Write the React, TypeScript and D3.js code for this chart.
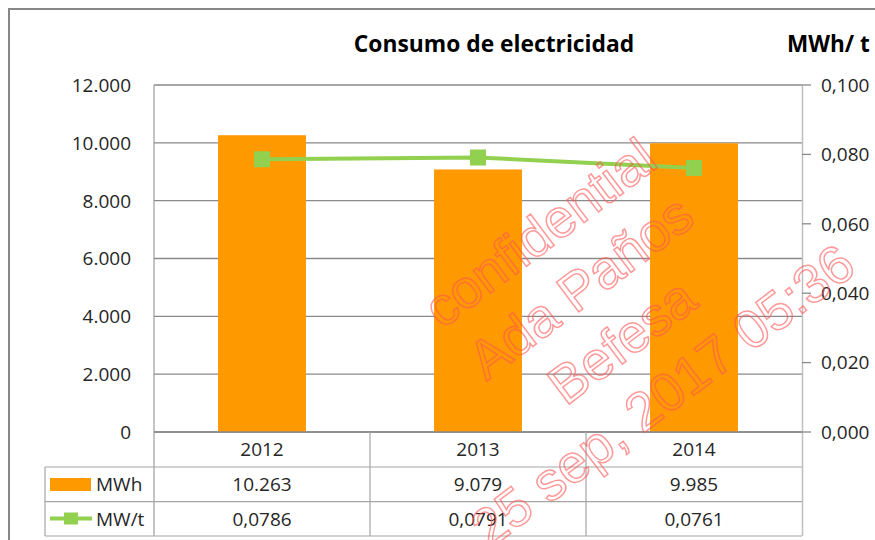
import React from "react";
import * as d3 from "d3";

const categories = ["2012", "2013", "2014"];
const mwhValues = [10263, 9079, 9985];
const mwtValues = [0.0786, 0.0791, 0.0761];
const mwhLabels = ["10.263", "9.079", "9.985"];
const mwtLabels = ["0,0786", "0,0791", "0,0761"];
const leftTicks = [0, 2000, 4000, 6000, 8000, 10000, 12000];
const rightTicks = [0, 0.02, 0.04, 0.06, 0.08, 0.1];
const watermark = ["confidential", "Ada Paños", "Befesa", "25 sep, 2017 05:36"];

const W = 875;
const H = 540;
const plotL = 154;
const plotR = 802;
const plotT = 85;
const plotB = 432;
const rowLines = [432, 467, 501.7, 536];
const tableL = 45;
const FONT = "'Open Sans', 'Noto Sans', sans-serif";

const fmtLeft = (v: number) =>
  v === 0 ? "0" : d3.format(",")(v).replace(/,/g, ".");
const fmtRight = (v: number) => d3.format(".3f")(v).replace(".", ",");

export default function App() {
  const x = d3.scaleBand<string>().domain(categories).range([plotL, plotR]).padding(0);
  const yL = d3.scaleLinear().domain([0, 12000]).range([plotB, plotT]);
  const yR = d3.scaleLinear().domain([0, 0.1]).range([plotB, plotT]);
  const bw = x.bandwidth() * 0.407;
  const cx = (c: string) => (x(c) as number) + x.bandwidth() / 2;
  const line = d3
    .line<number>()
    .x((_, i) => cx(categories[i]))
    .y((d) => yR(d));

  const rowCenter = (i: number) => (rowLines[i] + rowLines[i + 1]) / 2;
  const colEdges = [plotL, ...categories.map((c) => (x(c) as number) + x.bandwidth())];

  return (
    <div style={{ position: "absolute", left: 0, top: 0 }}>
      <svg width={W} height={H} style={{ display: "block" }} fontFamily={FONT}>
        <rect x={0} y={0} width={W} height={H} fill="#fff" />
        {/* outer frame */}
        <path d={`M9,${H} V9 H${W}`} fill="none" stroke="#878787" strokeWidth={2} />

        {/* title */}
        <text x={494} y={51.5} textAnchor="middle" fontSize={22.8} fontWeight="bold" fill="#000">
          Consumo de electricidad
        </text>
        <text x={787} y={51.5} fontSize={22.5} fontWeight="bold" fill="#000">
          MWh/ t
        </text>

        {/* gridlines */}
        {leftTicks.map((t) => (
          <line key={t} x1={plotL} x2={plotR} y1={yL(t)} y2={yL(t)} stroke="#8a8a8a" strokeWidth={1.3} />
        ))}
        {/* left axis labels */}
        {leftTicks.map((t) => (
          <text key={t} x={131} y={yL(t)} dy="0.36em" textAnchor="end" fontSize={19} fill="#262626">
            {fmtLeft(t)}
          </text>
        ))}

        {/* bars */}
        {categories.map((c, i) => (
          <rect
            key={c}
            x={cx(c) - bw / 2}
            y={yL(mwhValues[i])}
            width={bw}
            height={plotB - yL(mwhValues[i])}
            fill="#FF9900"
          />
        ))}

        {/* plot left line */}
        <line x1={plotL} x2={plotL} y1={plotT} y2={rowLines[3]} stroke="#8a8a8a" strokeWidth={1} />

        {/* right axis */}
        <line x1={plotR + 0.5} x2={plotR + 0.5} y1={plotT} y2={rowLines[3]} stroke="#bfbfbf" strokeWidth={1.5} />
        {rightTicks.map((t) => (
          <g key={t}>
            <line x1={plotR} x2={811} y1={yR(t)} y2={yR(t)} stroke="#8a8a8a" strokeWidth={1.3} />
            <text x={821} y={yR(t)} dy="0.36em" fontSize={19} fill="#262626">
              {fmtRight(t)}
            </text>
          </g>
        ))}

        {/* line series */}
        <path d={line(mwtValues) || ""} fill="none" stroke="#92D050" strokeWidth={4} />
        {mwtValues.map((v, i) => (
          <rect key={i} x={cx(categories[i]) - 8} y={yR(v) - 8} width={16} height={16} fill="#92D050" />
        ))}

        {/* data table */}
        <g stroke="#a6a6a6" strokeWidth={1.2}>
          <line x1={plotL} x2={plotR} y1={rowLines[0]} y2={rowLines[0]} stroke="#8a8a8a" strokeWidth={1.5} />
          {rowLines.slice(1).map((r) => (
            <line key={r} x1={tableL} x2={plotR} y1={r} y2={r} />
          ))}
          <line x1={tableL} x2={tableL} y1={rowLines[1]} y2={rowLines[3]} />
          {colEdges.slice(1, 3).map((e) => (
            <line key={e} x1={e} x2={e} y1={rowLines[0]} y2={rowLines[3]} />
          ))}
        </g>
        {categories.map((c, i) => (
          <g key={c} fontSize={19} fill="#262626" textAnchor="middle">
            <text x={cx(c)} y={rowCenter(0)} dy="0.36em">{c}</text>
            <text x={cx(c)} y={rowCenter(1)} dy="0.36em">{mwhLabels[i]}</text>
            <text x={cx(c)} y={rowCenter(2)} dy="0.36em">{mwtLabels[i]}</text>
          </g>
        ))}
        {/* legend keys */}
        <rect x={50} y={478} width={41} height={13} fill="#FF9900" />
        <text x={96} y={rowCenter(1)} dy="0.36em" fontSize={19} fill="#262626">MWh</text>
        <line x1={50} x2={92} y1={518.5} y2={518.5} stroke="#92D050" strokeWidth={4} />
        <rect x={64} y={512.5} width={14} height={12} fill="#92D050" />
        <text x={96} y={rowCenter(2)} dy="0.36em" fontSize={19} fill="#262626">MW/t</text>

        {/* watermark */}
        <g transform="translate(601,314) rotate(-37)" fontFamily="'Liberation Sans', Arial, sans-serif" fontSize={54} textAnchor="middle" fill="none" stroke="#ff5555" strokeOpacity={0.6} strokeWidth={1.5}>
          {watermark.map((w, i) => (
            <text key={i} x={0} y={(i - 1.5) * 68} dy="0.35em">{w}</text>
          ))}
        </g>
      </svg>
    </div>
  );
}
